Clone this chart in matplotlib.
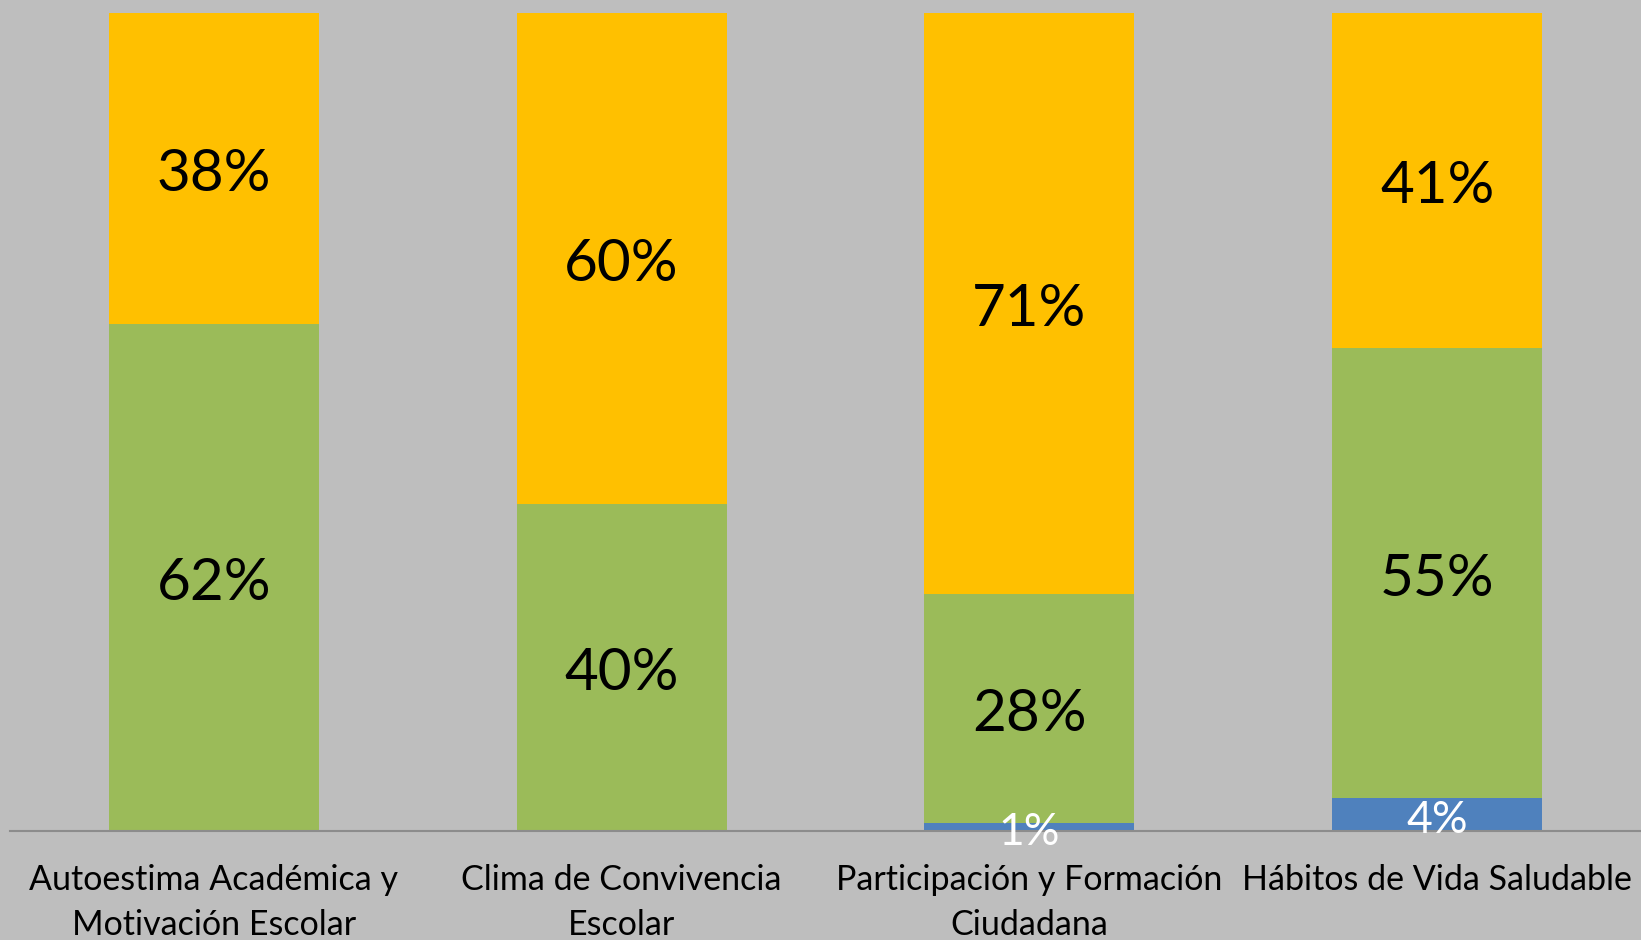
import numpy as np
import matplotlib.pyplot as plt

categories = ["Autoestima Académica y\nMotivación Escolar",
              "Clima de Convivencia\nEscolar",
              "Participación y Formación\nCiudadana",
              "Hábitos de Vida Saludable"]
blue_vals = [0, 0, 1, 4]
green_vals = [62, 40, 28, 55]
yellow_vals = [38, 60, 71, 41]

bg = "#BEBEBE"
c_blue = "#4F81BD"
c_green = "#9BBB59"
c_yellow = "#FFC000"

plt.rcParams['font.family'] = ['Lato', 'DejaVu Sans']

fig = plt.figure(figsize=(16.41, 9.40), dpi=100)
fig.patch.set_facecolor(bg)
ax = fig.add_axes([10 / 1641, 109 / 940, 1631 / 1641, 818 / 940])
ax.set_facecolor(bg)

x = np.arange(len(categories))
w = 0.515
blue = np.array(blue_vals)
green = np.array(green_vals)
yellow = np.array(yellow_vals)

ax.bar(x, blue, w, color=c_blue)
ax.bar(x, green, w, bottom=blue, color=c_green)
ax.bar(x, yellow, w, bottom=blue + green, color=c_yellow)

# labels sit a little below the segment middle, like the original
off = -0.7
for i in range(len(x)):
    if blue[i] > 0:
        ax.text(x[i], blue[i] / 2 + off, f"{blue[i]}%", ha="center", va="center",
                fontsize=32, color="white")
    ax.text(x[i], blue[i] + green[i] / 2 + off, f"{green[i]}%", ha="center",
            va="center", fontsize=42, color="black")
    ax.text(x[i], blue[i] + green[i] + yellow[i] / 2 + off, f"{yellow[i]}%",
            ha="center", va="center", fontsize=42, color="black")

ax.set_xlim(-0.5, 3.5)
ax.set_ylim(0, 100)
ax.set_xticks(x)
ax.set_xticklabels(categories, fontsize=24.5, linespacing=1.5)
ax.tick_params(axis="x", length=0, pad=24)
ax.set_yticks([])
for s in ["top", "right", "left"]:
    ax.spines[s].set_visible(False)
ax.spines["bottom"].set_color("#8C8C8C")
ax.spines["bottom"].set_linewidth(1.5)

fig.savefig("out.png", dpi=100, facecolor=bg)
